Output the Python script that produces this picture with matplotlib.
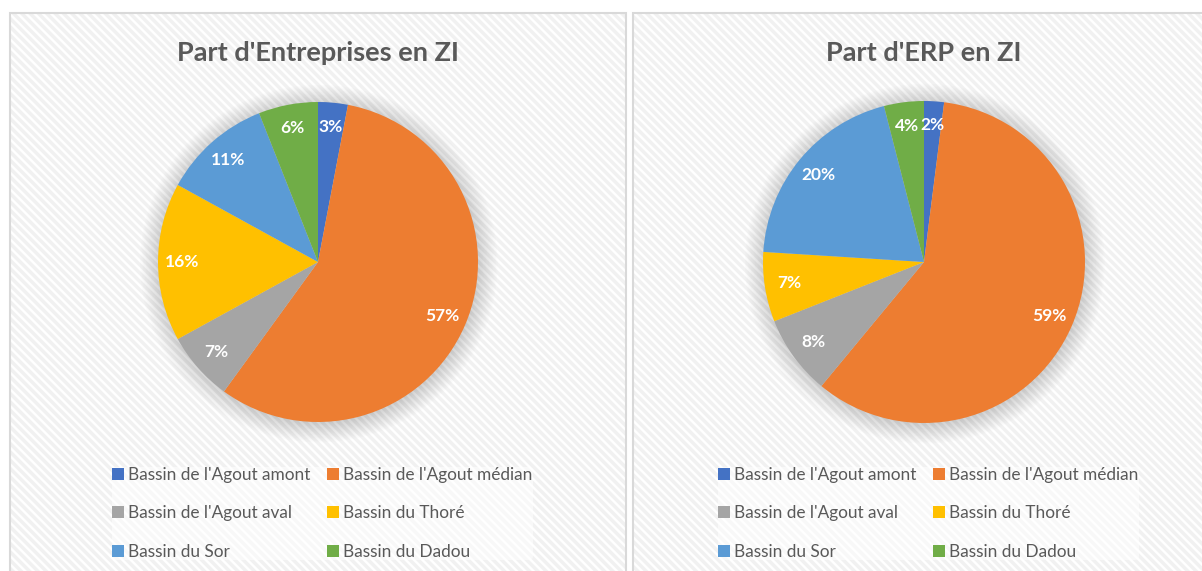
import matplotlib.pyplot as plt
from matplotlib.patches import Rectangle, Circle

# donnees
bassins = ["Bassin de l'Agout amont", "Bassin de l'Agout médian",
           "Bassin de l'Agout aval", "Bassin du Thoré",
           "Bassin du Sor", "Bassin du Dadou"]
part_entreprises = [3, 57, 7, 16, 11, 6]
part_erp = [2, 59, 8, 7, 20, 4]
titres = ["Part d'Entreprises en ZI", "Part d'ERP en ZI"]
couleurs = ["#4472C4", "#ED7D31", "#A5A5A5", "#FFC000", "#5B9BD5", "#70AD47"]

W, H = 1202, 571
plt.rcParams['font.family'] = ['Lato', 'DejaVu Sans']
plt.rcParams['hatch.linewidth'] = 2.5

fig = plt.figure(figsize=(W / 100, H / 100), dpi=100)


def px_box(x0, y0, w, h):
    # pixel box (top-left origin) -> figure fraction
    return [x0 / W, 1 - (y0 + h) / H, w / W, h / H]


def panel(x0, x1, cx, cy, r, valeurs, titre, leg_x):
    # fond hachure + bordure
    fig.patches.append(Rectangle((x0 / W, -0.05), (x1 - x0) / W, 1 - 13 / H + 0.05,
                                 transform=fig.transFigure, facecolor='white',
                                 edgecolor='#f1f1f1', linewidth=0,
                                 hatch='\\\\\\\\', zorder=-2))
    fig.patches.append(Rectangle((x0 / W, -0.05), (x1 - x0) / W, 1 - 13 / H + 0.05,
                                 transform=fig.transFigure, facecolor='none',
                                 edgecolor='#d9d9d9', linewidth=1.5, zorder=-1))
    fig.text(cx / W, 1 - 53 / H, titre, ha='center', va='center',
             fontsize=19.5, fontweight='bold', color='#595959')

    ext = 1.25
    ax = fig.add_axes(px_box(cx - r * ext, cy - r * ext, 2 * r * ext, 2 * r * ext))
    ax.set_xlim(-ext, ext)
    ax.set_ylim(-ext, ext)
    ax.set_aspect('equal')
    ax.axis('off')

    # ombre douce
    for k in range(14):
        ax.add_patch(Circle((0.005, -0.01), 1.0 + 0.009 * k, color='#000000',
                            alpha=0.011, lw=0, zorder=0))

    wedges, texts, autotexts = ax.pie(valeurs, colors=couleurs, startangle=90,
                                      counterclock=False, radius=1.0,
                                      autopct='%1.0f%%', pctdistance=0.85,
                                      wedgeprops=dict(linewidth=0),
                                      textprops=dict(color='white', fontsize=12.5,
                                                     fontweight='bold'))
    for w in wedges:
        w.set_zorder(2)
    for t in autotexts:
        t.set_zorder(3)

    ordre = [0, 2, 4, 1, 3, 5]
    leg = fig.legend([wedges[i] for i in ordre], [bassins[i] for i in ordre],
                     loc='upper left', bbox_to_anchor=(leg_x / W, 1 - 467 / H),
                     ncol=2, frameon=True, fontsize=12.4,
                     handlelength=0.7, handleheight=0.7, handletextpad=0.25,
                     labelspacing=1.3, columnspacing=0.95, borderpad=0.0,
                     borderaxespad=0.0)
    leg.get_frame().set_facecolor('white')
    leg.get_frame().set_alpha(0.5)
    leg.get_frame().set_linewidth(0)
    for t in leg.get_texts():
        t.set_color('#595959')


panel(10, 626, 318, 262, 160, part_entreprises, titres[0], 112)
panel(633, 1215, 924, 262, 161, part_erp, titres[1], 718)

fig.savefig('out.png', dpi=100)
